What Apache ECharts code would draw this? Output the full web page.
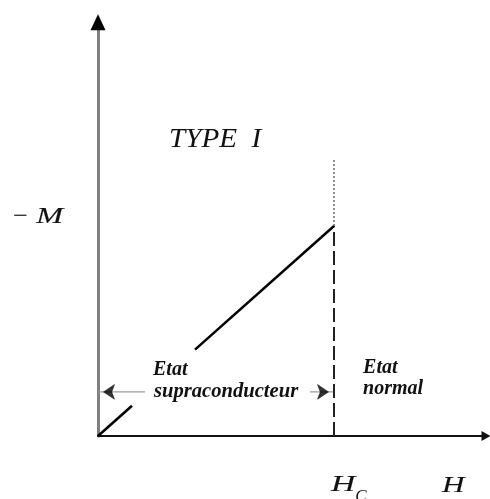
<!DOCTYPE html>
<html>
<head>
<meta charset="utf-8">
<script src="https://cdn.jsdelivr.net/npm/echarts@6/dist/echarts.min.js"></script>
<style>
  html, body { margin: 0; padding: 0; background: #fff; }
  #chart { width: 490px; height: 499px; }
</style>
</head>
<body>
<div id="chart"></div>
<script>
// Type I superconductor: -M grows linearly with H up to Hc, then falls to zero.
// Units are reduced: H / Hc and -M / M(Hc).
const fieldH = [0, 0.144, 0.411, 1];      // H along the magnetisation line
const minusM = [0, 0.144, 0.411, 1];      // -M at those fields (line broken between 2nd and 3rd point)
const hc = 1;                              // critical field
const mAtHc = 1;                           // -M just below Hc
const dottedTop = 1.324;                   // dotted guide above the jump
const arrowLevel = 0.21;                   // height of the "Etat supraconducteur" span arrow
const spanLeftEnd = 0.199;                 // left part of the span arrow
const spanRightStart = 0.898;              // right part of the span arrow
const xMax = 1.644;
const yMax = 1.97;

const serif = '"Liberation Serif", "DejaVu Serif", serif';

const chart = echarts.init(document.getElementById('chart'), null, { renderer: 'canvas' });

function pair(xs, ys, i) { return [xs[i], ys[i]]; }

const option = {
  animation: false,
  backgroundColor: '#fff',
  grid: { left: 98, right: 4, top: 436 - yMax * 210, bottom: 63, containLabel: false },
  xAxis: {
    type: 'value', min: 0, max: xMax,
    axisLine: { show: true, onZero: false, symbol: ['none', 'triangle'], symbolSize: [10, 9],
      lineStyle: { color: '#111', width: 2 } },
    axisTick: { show: false }, axisLabel: { show: false }, splitLine: { show: false }
  },
  yAxis: {
    type: 'value', min: 0, max: yMax,
    axisLine: { show: true, onZero: false, lineStyle: { color: '#808080', width: 3 } },
    axisTick: { show: false }, axisLabel: { show: false }, splitLine: { show: false }
  },
  series: [
    { name: 'M lower', type: 'line', symbol: 'none', z: 5,
      lineStyle: { color: '#000', width: 2.5 },
      data: [pair(fieldH, minusM, 0), pair(fieldH, minusM, 1)] },
    { name: 'M upper', type: 'line', symbol: 'none', z: 5,
      lineStyle: { color: '#000', width: 2.5 },
      data: [pair(fieldH, minusM, 2), pair(fieldH, minusM, 3)] },
    { name: 'Hc jump', type: 'line', symbol: 'none', z: 4,
      lineStyle: { color: '#222', width: 2, type: [14, 5] },
      data: [[hc, 0], [hc, mAtHc]] },
    { name: 'Hc guide', type: 'line', symbol: 'none', z: 4,
      lineStyle: { color: '#444', width: 1.2, type: [2, 2] },
      data: [[hc, mAtHc], [hc, dottedTop]] },
    { name: 'span left', type: 'line', symbol: 'none', z: 3,
      lineStyle: { color: '#9a9a9a', width: 1.2 },
      data: [[0, arrowLevel], [spanLeftEnd, arrowLevel]] },
    { name: 'span right', type: 'line', symbol: 'none', z: 3,
      lineStyle: { color: '#9a9a9a', width: 1.2 },
      data: [[spanRightStart, arrowLevel], [hc, arrowLevel]] },
    { name: 'span head left', type: 'scatter', symbol: 'arrow', symbolSize: [11, 11],
      symbolRotate: 90, symbolOffset: [5.5, 0], z: 6,
      itemStyle: { color: '#000', borderColor: '#000', borderWidth: 0.6 },
      data: [[0, arrowLevel]] },
    { name: 'span head right', type: 'scatter', symbol: 'arrow', symbolSize: [11, 11],
      symbolRotate: -90, symbolOffset: [-5.5, 0], z: 6,
      itemStyle: { color: '#000', borderColor: '#000', borderWidth: 0.6 },
      data: [[hc, arrowLevel]] },
    { name: 'y arrow', type: 'scatter', symbol: 'triangle', symbolSize: [15, 16], z: 7,
      itemStyle: { color: '#000', opacity: 1 }, data: [[0, yMax]] }
  ]
};
chart.setOption(option);

// Annotations anchored in data coordinates
function px(x, y) { return chart.convertToPixel({ gridIndex: 0 }, [x, y]); }
function label(text, at, font, sx, heavy) {
  const p = px(at[0], at[1]);
  const style = { text: text, font: font, fill: '#111', textAlign: 'left', textVerticalAlign: 'middle' };
  if (heavy) { style.stroke = '#111'; style.lineWidth = heavy; }
  return { type: 'text', x: p[0], y: p[1], z: 10, scaleX: sx || 1, style: style };
}

const annotations = [
  label('TYPE  I', [0.301, 1.41], 'italic 28px ' + serif, 1.04),
  label('\u2212', [-0.36, 1.043], '24px ' + serif, 1.1),
  label('M', [-0.262, 1.043], 'italic 23px ' + serif, 1.4, 0.15),
  label('H', [0.987, -0.233], 'italic 24px ' + serif, 1.4, 0.1),
  label('C', [1.09, -0.29], 'italic 17px ' + serif),
  label('H', [1.458, -0.235], 'italic 24px ' + serif, 1.3, 0.1),
  label('Etat', [0.233, 0.317], 'italic bold 20px ' + serif),
  label('supraconducteur', [0.237, arrowLevel], 'italic bold 20px ' + serif, 1.03),
  label('Etat', [1.123, 0.326], 'italic bold 20px ' + serif),
  label('normal', [1.123, 0.224], 'italic bold 20px ' + serif)
];
chart.setOption({ graphic: annotations });
</script>
</body>
</html>
